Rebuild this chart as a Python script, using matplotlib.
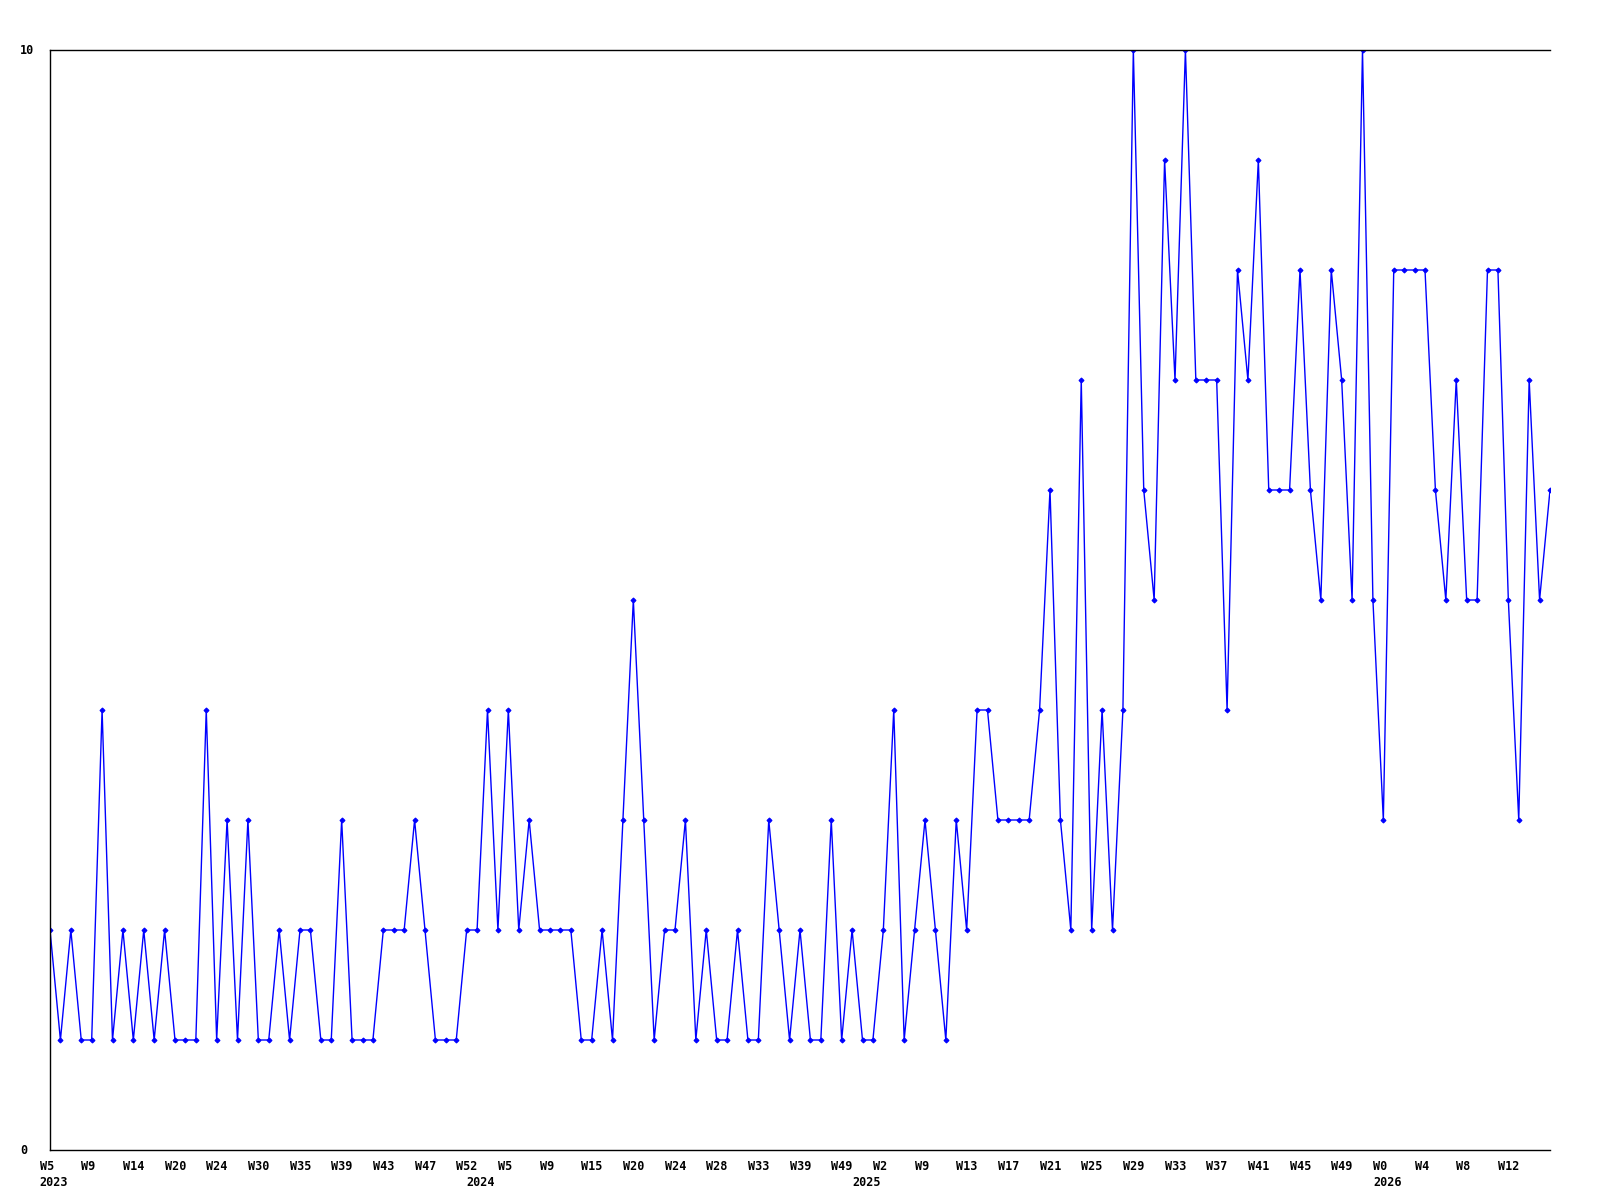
import matplotlib
matplotlib.use("Agg")
import matplotlib.pyplot as plt

# Weekly counts, one per data point (145 points)
values = [
    2, 1, 2, 1, 1, 4, 1, 2, 1, 2, 1, 2, 1, 1, 1, 4, 1, 3, 1, 3,
    1, 1, 2, 1, 2, 2, 1, 1, 3, 1, 1, 1, 2, 2, 2, 3, 2, 1, 1, 1,
    2, 2, 4, 2, 4, 2, 3, 2, 2, 2, 2, 1, 1, 2, 1, 3, 5, 3, 1, 2,
    2, 3, 1, 2, 1, 1, 2, 1, 1, 3, 2, 1, 2, 1, 1, 3, 1, 2, 1, 1,
    2, 4, 1, 2, 3, 2, 1, 3, 2, 4, 4, 3, 3, 3, 3, 4, 6, 3, 2, 7,
    2, 4, 2, 4, 10, 6, 5, 9, 7, 10, 7, 7, 7, 4, 8, 7, 9, 6, 6, 6,
    8, 6, 5, 8, 7, 5, 10, 5, 3, 8, 8, 8, 8, 6, 5, 7, 5, 5, 8, 8,
    5, 3, 7, 5, 6,
]

# label on every 4th point
week_labels = [
    "W5", "W9", "W14", "W20", "W24", "W30", "W35", "W39", "W43", "W47",
    "W52", "W5", "W9", "W15", "W20", "W24", "W28", "W33", "W39", "W49",
    "W2", "W9", "W13", "W17", "W21", "W25", "W29", "W33", "W37", "W41",
    "W45", "W49", "W0", "W4", "W8", "W12",
]

# first point index of each year
years = ["2023", "2024", "2025", "2026"]
year_start = [0, 41, 78, 128]

x = list(range(len(values)))

fig = plt.figure(figsize=(16, 12), dpi=100)
ax = fig.add_axes([50 / 1600, 50 / 1200, 1500 / 1600, 1100 / 1200])

ax.plot(x, values, color="#0000ff", linewidth=1.0,
        marker="D", markersize=2.5, markeredgewidth=0.8)

ax.set_xlim(0, len(values) - 1)
ax.set_ylim(0, 10)
ax.spines["right"].set_visible(False)
for s in ["left", "bottom", "top"]:
    ax.spines[s].set_linewidth(1.0)
ax.set_xticks([])
ax.set_yticks([])

font = dict(family="DejaVu Sans Mono", fontweight="bold", fontsize=8.5)
trans = ax.get_xaxis_transform()

for k, lab in enumerate(week_labels):
    ax.text(k * 4 - 1.0, -10 / 1100, lab, transform=trans,
            ha="left", va="top", **font)

for yr, pos in zip(years, year_start):
    ax.text(pos - 1.0, -26 / 1100, yr, transform=trans,
            ha="left", va="top", **font)

# y labels, only bottom and top
ax.text(-30 / 1500, 1.0, "10", transform=ax.transAxes, ha="left", va="center", **font)
ax.text(-30 / 1500, 0.0, "0", transform=ax.transAxes, ha="left", va="center", **font)

fig.savefig("out.png", dpi=100, facecolor="white")
